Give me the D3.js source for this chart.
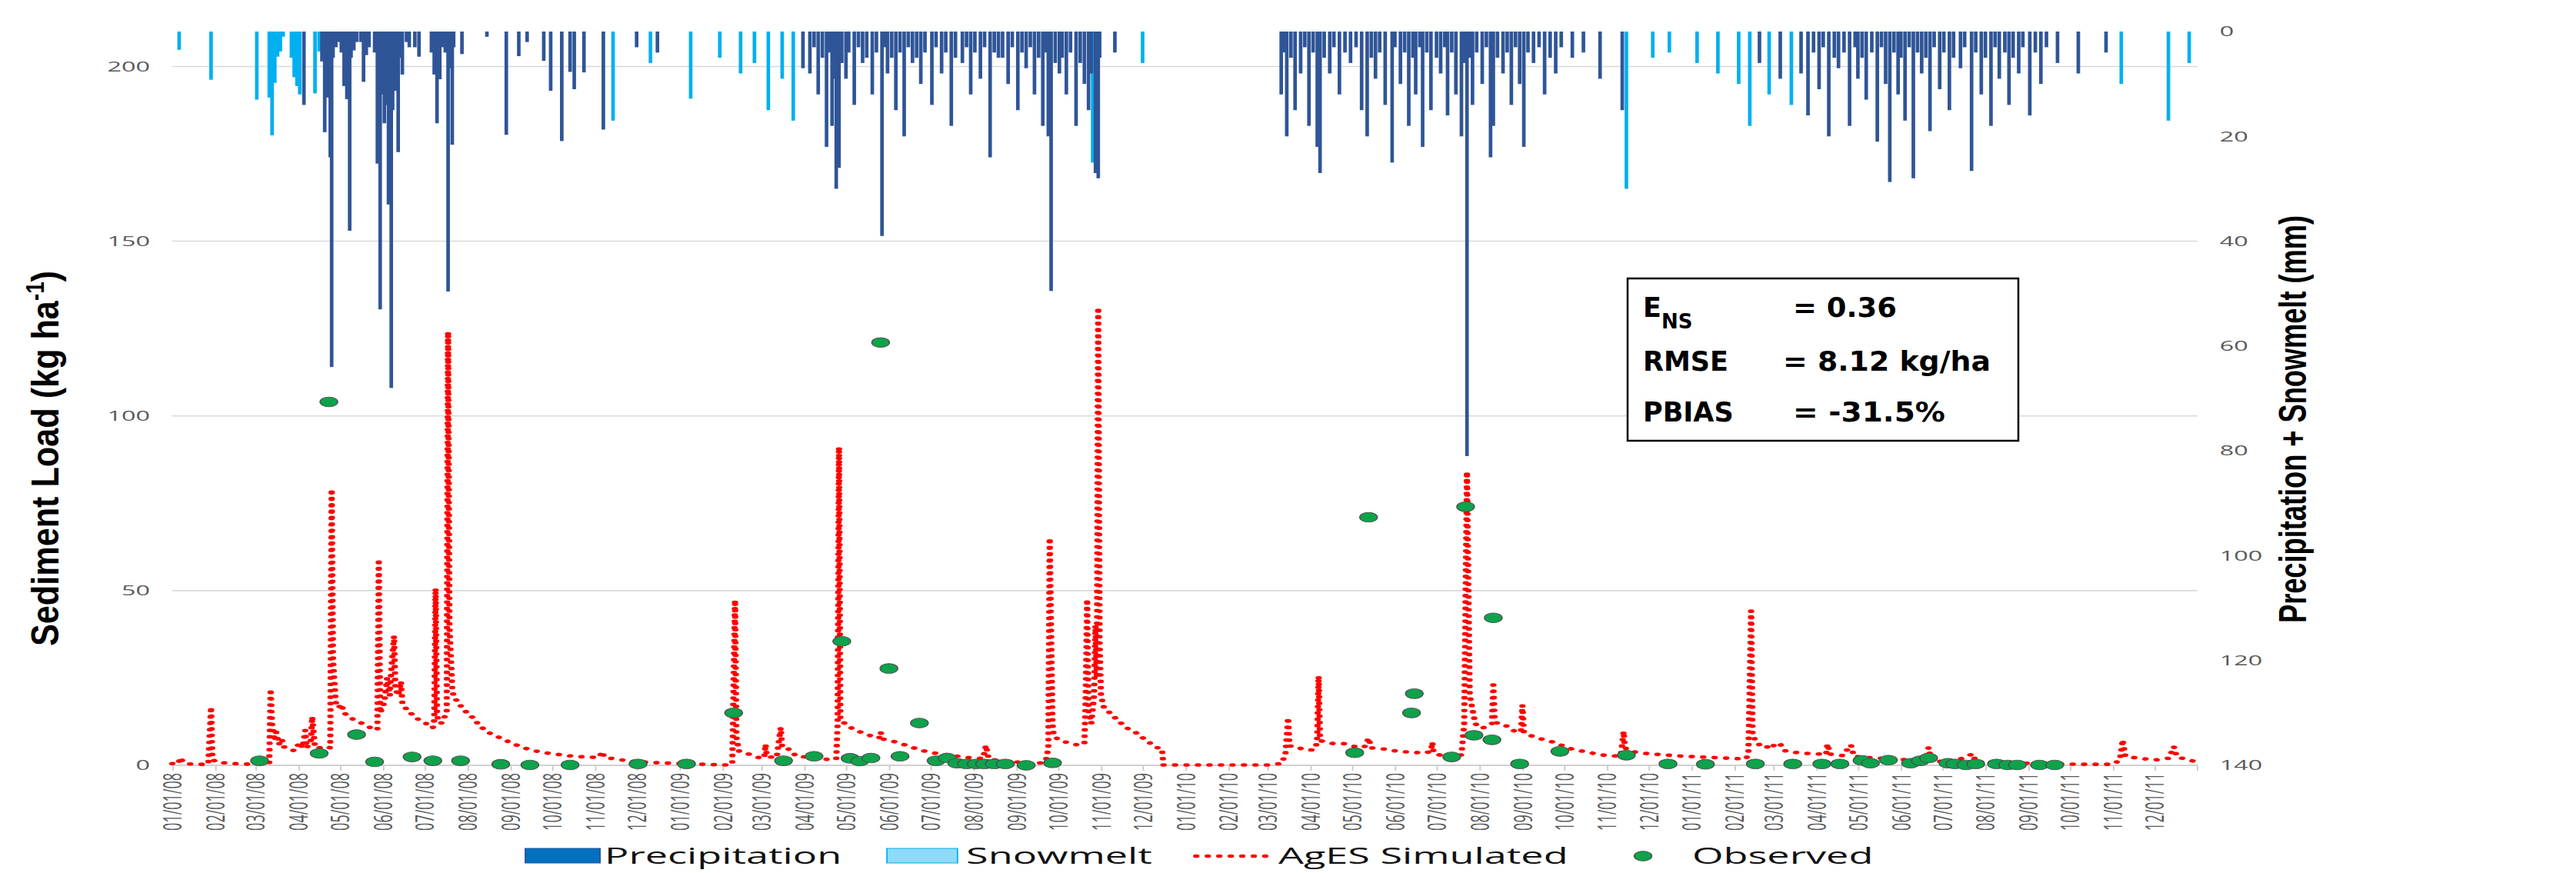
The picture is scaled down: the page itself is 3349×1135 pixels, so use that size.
<!DOCTYPE html>
<html>
<head>
<meta charset="utf-8">
<script src="https://cdn.jsdelivr.net/npm/d3@7"></script>
<style>
  html, body { margin: 0; padding: 0; background: #fff; }
  svg { display: block; }
  .tick-label { font-family: "Open Sans", "Noto Sans", sans-serif; font-size: 18px; fill: #595959; }
  .axis-title { font-family: "Liberation Sans", Arial, sans-serif; font-size: 28px; font-weight: bold; fill: #000; }
  .legend-text { font-family: "Open Sans", "Noto Sans", sans-serif; font-size: 29px; fill: #111; }
  .stats-text { font-family: "DejaVu Sans", sans-serif; font-size: 35px; font-weight: bold; fill: #000; }
</style>
</head>
<body>
<svg width="3349" height="1135"></svg>
<script>
// daily precipitation (mm), hangs from the top on the reversed right axis
const precipitation = [
  ["2008-04-05", 14], ["2008-04-18", 5.7], ["2008-04-19", 4], ["2008-04-20", 19.2], ["2008-04-21", 3],
  ["2008-04-22", 12.6], ["2008-04-23", 6], ["2008-04-24", 24], ["2008-04-25", 64], ["2008-04-26", 5],
  ["2008-04-28", 3], ["2008-04-30", 2], ["2008-05-02", 4], ["2008-05-04", 10.4], ["2008-05-05", 6],
  ["2008-05-06", 12.9], ["2008-05-07", 8], ["2008-05-08", 38], ["2008-05-09", 5], ["2008-05-11", 3.6],
  ["2008-05-13", 2], ["2008-05-16", 2], ["2008-05-18", 9.6], ["2008-05-20", 4.5], ["2008-05-22", 3],
  ["2008-05-26", 4], ["2008-05-28", 25.2], ["2008-05-29", 9], ["2008-05-30", 53], ["2008-05-31", 12],
  ["2008-06-01", 8], ["2008-06-02", 17.5], ["2008-06-03", 10], ["2008-06-04", 14], ["2008-06-05", 33],
  ["2008-06-06", 20], ["2008-06-07", 68], ["2008-06-08", 15], ["2008-06-09", 6], ["2008-06-10", 11.3],
  ["2008-06-11", 9], ["2008-06-12", 23], ["2008-06-13", 5], ["2008-06-15", 8.2], ["2008-06-18", 2],
  ["2008-06-20", 3], ["2008-06-24", 3], ["2008-06-27", 4.8], ["2008-07-06", 4], ["2008-07-08", 8.2],
  ["2008-07-09", 6], ["2008-07-10", 17.5], ["2008-07-12", 9.1], ["2008-07-14", 3], ["2008-07-16", 4],
  ["2008-07-18", 49.6], ["2008-07-19", 7], ["2008-07-20", 5], ["2008-07-21", 21.6], ["2008-07-22", 3],
  ["2008-07-28", 4.3], ["2008-08-15", 1], ["2008-08-29", 19.7], ["2008-09-07", 4.7], ["2008-09-13", 2],
  ["2008-09-25", 5.6], ["2008-09-30", 11.3], ["2008-10-08", 20.9], ["2008-10-14", 7.7], ["2008-10-17", 11],
  ["2008-10-24", 7.8], ["2008-11-07", 18.7], ["2008-12-01", 3], ["2008-12-16", 4],
  ["2009-03-31", 7], ["2009-04-05", 8], ["2009-04-08", 3], ["2009-04-11", 12], ["2009-04-14", 5],
  ["2009-04-17", 22], ["2009-04-19", 4], ["2009-04-21", 18], ["2009-04-23", 9], ["2009-04-24", 30],
  ["2009-04-26", 26], ["2009-04-28", 6], ["2009-05-01", 9], ["2009-05-03", 4], ["2009-05-07", 14],
  ["2009-05-10", 3], ["2009-05-13", 6], ["2009-05-16", 5], ["2009-05-20", 12], ["2009-05-23", 4],
  ["2009-05-27", 39], ["2009-05-29", 3], ["2009-05-31", 8], ["2009-06-03", 5], ["2009-06-06", 15],
  ["2009-06-09", 4], ["2009-06-12", 20], ["2009-06-15", 3], ["2009-06-18", 6], ["2009-06-21", 5],
  ["2009-06-24", 10], ["2009-06-27", 4], ["2009-07-02", 14], ["2009-07-05", 3], ["2009-07-09", 8],
  ["2009-07-12", 4], ["2009-07-16", 18], ["2009-07-19", 5], ["2009-07-24", 6], ["2009-07-27", 3],
  ["2009-07-30", 12], ["2009-08-02", 4], ["2009-08-06", 9], ["2009-08-09", 3], ["2009-08-13", 24],
  ["2009-08-16", 4], ["2009-08-19", 5], ["2009-08-22", 5], ["2009-08-26", 10], ["2009-08-29", 3],
  ["2009-09-02", 15], ["2009-09-05", 4], ["2009-09-08", 7], ["2009-09-11", 3], ["2009-09-14", 12],
  ["2009-09-17", 5], ["2009-09-20", 18], ["2009-09-22", 4], ["2009-09-24", 20], ["2009-09-26", 49.5],
  ["2009-09-29", 6], ["2009-10-02", 8], ["2009-10-04", 5], ["2009-10-07", 12], ["2009-10-10", 4],
  ["2009-10-14", 18], ["2009-10-17", 6], ["2009-10-20", 10], ["2009-10-23", 15], ["2009-10-25", 8],
  ["2009-10-28", 27], ["2009-10-30", 28], ["2009-10-31", 5], ["2009-11-11", 4],
  ["2010-03-11", 12], ["2010-03-13", 4], ["2010-03-15", 20], ["2010-03-18", 5], ["2010-03-21", 15],
  ["2010-03-25", 8], ["2010-03-28", 3], ["2010-03-31", 18], ["2010-04-03", 4], ["2010-04-06", 22],
  ["2010-04-08", 27], ["2010-04-11", 5], ["2010-04-15", 8], ["2010-04-18", 3], ["2010-04-22", 12],
  ["2010-04-26", 4], ["2010-04-30", 6], ["2010-05-04", 3], ["2010-05-08", 15], ["2010-05-12", 20],
  ["2010-05-15", 5], ["2010-05-18", 9], ["2010-05-21", 4], ["2010-05-25", 14], ["2010-05-30", 25],
  ["2010-06-01", 3], ["2010-06-05", 10], ["2010-06-08", 4], ["2010-06-11", 18], ["2010-06-14", 5],
  ["2010-06-16", 12], ["2010-06-19", 3], ["2010-06-21", 22], ["2010-06-24", 4], ["2010-06-27", 15],
  ["2010-07-01", 5], ["2010-07-04", 8], ["2010-07-07", 3], ["2010-07-09", 16], ["2010-07-12", 4],
  ["2010-07-15", 12], ["2010-07-19", 20], ["2010-07-21", 6], ["2010-07-23", 81], ["2010-07-25", 5],
  ["2010-07-27", 14], ["2010-07-30", 4], ["2010-08-03", 10], ["2010-08-06", 3], ["2010-08-09", 24],
  ["2010-08-11", 18], ["2010-08-14", 5], ["2010-08-18", 8], ["2010-08-21", 4], ["2010-08-24", 14],
  ["2010-08-27", 3], ["2010-08-30", 10], ["2010-09-02", 22], ["2010-09-05", 4], ["2010-09-09", 6],
  ["2010-09-13", 3], ["2010-09-17", 12], ["2010-09-21", 5], ["2010-09-25", 8], ["2010-09-29", 3],
  ["2010-10-07", 5], ["2010-10-15", 4], ["2010-10-27", 9], ["2010-11-12", 15],
  ["2011-02-19", 6], ["2011-03-06", 9], ["2011-03-21", 8], ["2011-03-26", 16], ["2011-03-30", 4],
  ["2011-04-03", 11], ["2011-04-06", 3], ["2011-04-10", 20], ["2011-04-14", 5], ["2011-04-17", 7],
  ["2011-04-21", 4], ["2011-04-25", 18], ["2011-04-29", 3], ["2011-05-01", 9], ["2011-05-04", 5],
  ["2011-05-07", 13], ["2011-05-11", 4], ["2011-05-15", 21], ["2011-05-18", 3], ["2011-05-21", 10],
  ["2011-05-24", 28.7], ["2011-05-27", 4], ["2011-05-30", 12], ["2011-06-01", 5], ["2011-06-04", 17],
  ["2011-06-07", 3], ["2011-06-10", 28], ["2011-06-13", 4], ["2011-06-16", 8], ["2011-06-19", 5],
  ["2011-06-22", 19], ["2011-06-25", 3], ["2011-06-29", 11], ["2011-07-02", 4], ["2011-07-06", 15],
  ["2011-07-09", 5], ["2011-07-14", 7], ["2011-07-17", 3], ["2011-07-22", 26.6], ["2011-07-25", 4],
  ["2011-07-29", 12], ["2011-08-01", 5], ["2011-08-05", 18], ["2011-08-08", 3], ["2011-08-11", 9],
  ["2011-08-15", 4], ["2011-08-18", 14], ["2011-08-21", 5], ["2011-08-25", 8], ["2011-08-28", 3],
  ["2011-09-02", 16], ["2011-09-06", 4], ["2011-09-10", 10], ["2011-09-14", 3], ["2011-09-22", 6],
  ["2011-10-07", 8], ["2011-10-27", 4]
]

// daily snowmelt (mm)
const snowmelt = [
  ["2008-01-06", 3.5], ["2008-01-29", 9.2], ["2008-03-02", 13], ["2008-03-11", 12.6], ["2008-03-13", 19.8],
  ["2008-03-15", 9.8], ["2008-03-17", 4.8], ["2008-03-19", 3.8], ["2008-03-21", 1], ["2008-03-27", 5],
  ["2008-03-29", 8.7], ["2008-03-31", 10.4], ["2008-04-02", 12], ["2008-04-13", 11.8], ["2008-04-16", 3.8],
  ["2008-11-14", 17], ["2008-12-11", 6],
  ["2009-01-09", 12.8], ["2009-01-30", 5], ["2009-02-14", 8], ["2009-02-24", 6], ["2009-03-06", 15],
  ["2009-03-16", 9], ["2009-03-24", 17], ["2009-10-26", 25], ["2009-12-01", 6],
  ["2010-11-15", 30], ["2010-12-04", 5], ["2010-12-16", 4],
  ["2011-01-05", 6], ["2011-01-20", 8], ["2011-02-04", 10], ["2011-02-12", 18], ["2011-02-26", 12],
  ["2011-03-14", 14], ["2011-11-07", 10], ["2011-12-11", 17], ["2011-12-26", 6]
]

// AgES simulated sediment load (kg/ha)
const simulated = [
  ["2008-01-01", 0.5], ["2008-01-05", 0.3], ["2008-01-07", 2.2], ["2008-01-09", 0.8], ["2008-01-13", 0.4],
  ["2008-01-21", 0.3], ["2008-01-27", 0.3], ["2008-01-29", 16.7], ["2008-01-30", 2.0], ["2008-02-01", 1.0],
  ["2008-02-10", 0.6], ["2008-02-20", 0.4], ["2008-02-28", 0.3], ["2008-03-03", 0.5], ["2008-03-07", 0.8],
  ["2008-03-11", 0.8], ["2008-03-12", 21.8], ["2008-03-13", 12], ["2008-03-15", 7], ["2008-03-16", 9.5],
  ["2008-03-18", 6], ["2008-03-20", 7.5], ["2008-03-22", 5], ["2008-03-26", 4.5], ["2008-03-29", 4.2],
  ["2008-04-02", 6.5], ["2008-04-04", 5], ["2008-04-06", 10], ["2008-04-07", 5], ["2008-04-10", 7],
  ["2008-04-11", 13.9], ["2008-04-13", 5], ["2008-04-16", 5], ["2008-04-20", 5.5], ["2008-04-24", 5],
  ["2008-04-25", 79], ["2008-04-26", 30], ["2008-04-28", 18], ["2008-04-30", 16.5], ["2008-05-02", 17.5],
  ["2008-05-04", 15], ["2008-05-08", 13.7], ["2008-05-14", 12.5], ["2008-05-20", 11.5], ["2008-05-26", 10],
  ["2008-05-28", 10.5], ["2008-05-29", 59], ["2008-05-30", 15], ["2008-06-02", 18], ["2008-06-04", 25],
  ["2008-06-06", 20], ["2008-06-07", 27], ["2008-06-09", 37], ["2008-06-10", 22], ["2008-06-12", 20],
  ["2008-06-14", 24], ["2008-06-15", 18], ["2008-06-18", 16], ["2008-06-25", 13.5], ["2008-07-02", 12],
  ["2008-07-07", 10.7], ["2008-07-08", 13], ["2008-07-09", 50.6], ["2008-07-10", 14], ["2008-07-13", 12],
  ["2008-07-15", 13.5], ["2008-07-17", 15], ["2008-07-18", 124], ["2008-07-19", 40], ["2008-07-21", 22],
  ["2008-07-22", 19.7], ["2008-07-29", 16], ["2008-08-05", 13.6], ["2008-08-10", 11.2], ["2008-08-16", 9.4],
  ["2008-08-22", 8.3], ["2008-08-28", 7.3], ["2008-09-02", 6.2], ["2008-09-08", 5.5], ["2008-09-15", 4.4],
  ["2008-09-22", 3.9], ["2008-09-29", 3.4], ["2008-10-08", 3.0], ["2008-10-16", 2.6], ["2008-10-29", 2.3],
  ["2008-11-04", 2.3], ["2008-11-06", 3.9], ["2008-11-08", 2.2], ["2008-11-16", 1.8], ["2008-11-26", 1.2],
  ["2008-12-11", 0.8], ["2008-12-26", 0.6],
  ["2009-01-10", 0.4], ["2009-01-25", 0.2], ["2009-02-04", 0.1], ["2009-02-08", 0.3], ["2009-02-10", 47.3],
  ["2009-02-11", 8], ["2009-02-13", 4], ["2009-02-17", 3.5], ["2009-02-22", 3.0], ["2009-02-26", 2.3],
  ["2009-03-03", 2.0], ["2009-03-04", 6], ["2009-03-05", 2.5], ["2009-03-12", 2.2], ["2009-03-15", 10.8],
  ["2009-03-16", 5], ["2009-03-20", 4.8], ["2009-03-23", 4.0], ["2009-03-26", 2.6], ["2009-04-05", 2.3],
  ["2009-04-15", 1.9], ["2009-04-20", 1.5], ["2009-04-24", 1.8], ["2009-04-25", 12], ["2009-04-26", 91],
  ["2009-04-27", 13], ["2009-05-02", 11.4], ["2009-05-07", 10.2], ["2009-05-13", 9.3], ["2009-05-20", 8.3],
  ["2009-05-25", 7.8], ["2009-05-26", 9.5], ["2009-05-28", 7.5], ["2009-06-03", 7], ["2009-06-13", 5.8],
  ["2009-06-24", 4.3], ["2009-07-04", 3.5], ["2009-07-14", 3.0], ["2009-07-24", 2.4], ["2009-08-03", 2.0],
  ["2009-08-08", 2.0], ["2009-08-10", 5.7], ["2009-08-12", 1.8], ["2009-08-23", 1.2], ["2009-09-07", 0.8],
  ["2009-09-17", 0.6], ["2009-09-22", 1.0], ["2009-09-24", 5], ["2009-09-25", 65], ["2009-09-27", 12],
  ["2009-09-28", 8.3], ["2009-10-03", 7], ["2009-10-07", 6.6], ["2009-10-12", 6], ["2009-10-17", 5.8],
  ["2009-10-20", 6], ["2009-10-21", 20], ["2009-10-22", 47.5], ["2009-10-23", 15], ["2009-10-25", 12],
  ["2009-10-27", 20], ["2009-10-28", 40], ["2009-10-29", 25], ["2009-10-30", 131], ["2009-10-31", 35],
  ["2009-11-01", 20], ["2009-11-03", 16.7], ["2009-11-10", 14], ["2009-11-19", 10.8], ["2009-11-26", 9.4],
  ["2009-12-03", 7.3], ["2009-12-11", 5.1], ["2009-12-15", 4.8], ["2009-12-16", 0.1], ["2009-12-31", 0.1],
  ["2010-01-30", 0.1], ["2010-03-01", 0.1], ["2010-03-06", 0.3], ["2010-03-11", 0.5], ["2010-03-14", 3],
  ["2010-03-16", 13.6], ["2010-03-17", 5.5], ["2010-03-21", 5.5], ["2010-03-27", 4.5], ["2010-04-02", 4.4],
  ["2010-04-05", 5], ["2010-04-06", 8], ["2010-04-07", 25.5], ["2010-04-08", 7.1], ["2010-04-13", 6.5],
  ["2010-04-18", 6.2], ["2010-04-25", 6.2], ["2010-05-03", 5.4], ["2010-05-10", 5.2], ["2010-05-13", 7.8],
  ["2010-05-15", 5], ["2010-05-20", 4.8], ["2010-05-27", 4.6], ["2010-06-04", 3.9], ["2010-06-14", 3.8],
  ["2010-06-22", 3.4], ["2010-06-27", 4], ["2010-06-28", 6.6], ["2010-06-29", 3.5], ["2010-07-07", 2.5],
  ["2010-07-15", 2.5], ["2010-07-19", 3], ["2010-07-21", 12], ["2010-07-23", 84], ["2010-07-25", 20],
  ["2010-07-29", 11.9], ["2010-08-02", 10.6], ["2010-08-06", 11], ["2010-08-10", 12], ["2010-08-11", 23],
  ["2010-08-12", 13], ["2010-08-14", 11.9], ["2010-08-21", 11.2], ["2010-08-28", 9.3], ["2010-08-31", 10],
  ["2010-09-01", 17.2], ["2010-09-02", 9.5], ["2010-09-07", 8.5], ["2010-09-14", 7.6], ["2010-09-22", 6.8],
  ["2010-09-26", 6.2], ["2010-10-07", 4.6], ["2010-10-19", 3.7], ["2010-10-27", 3.0], ["2010-11-07", 2.7],
  ["2010-11-11", 2.8], ["2010-11-13", 9.7], ["2010-11-14", 5], ["2010-11-18", 4.0], ["2010-12-01", 3.3],
  ["2010-12-12", 3.0], ["2010-12-26", 2.6],
  ["2011-01-13", 2.3], ["2011-01-30", 2.0], ["2011-02-09", 1.8], ["2011-02-11", 3], ["2011-02-13", 44.2],
  ["2011-02-14", 9.3], ["2011-02-16", 7], ["2011-02-20", 5.5], ["2011-02-24", 5.0], ["2011-02-27", 6.2],
  ["2011-03-03", 5.2], ["2011-03-06", 6.0], ["2011-03-10", 4.0], ["2011-03-21", 3.5], ["2011-04-05", 3.2],
  ["2011-04-08", 3], ["2011-04-09", 6.1], ["2011-04-11", 3.2], ["2011-04-20", 2.8], ["2011-04-26", 5.8],
  ["2011-04-28", 2.6], ["2011-05-10", 2.2], ["2011-05-25", 1.8], ["2011-06-09", 1.5], ["2011-06-19", 1.2],
  ["2011-06-21", 5.1], ["2011-06-23", 1.2], ["2011-07-09", 1.0], ["2011-07-23", 3.3], ["2011-07-25", 1.0],
  ["2011-08-13", 0.7], ["2011-09-02", 0.6], ["2011-09-22", 0.4], ["2011-10-12", 0.3], ["2011-11-01", 0.3],
  ["2011-11-06", 1.5], ["2011-11-08", 7.3], ["2011-11-10", 2.5], ["2011-11-21", 2], ["2011-12-01", 1.5],
  ["2011-12-11", 2], ["2011-12-15", 5.3], ["2011-12-17", 2.5], ["2011-12-21", 2], ["2011-12-31", 1.0]
]

// observed sediment load (kg/ha)
const observed = [
  ["2008-03-04", 1.3], ["2008-04-16", 3.4], ["2008-04-23", 104], ["2008-05-13", 8.8], ["2008-05-26", 1.0],
  ["2008-06-22", 2.4], ["2008-07-07", 1.3], ["2008-07-27", 1.3], ["2008-08-25", 0.3], ["2008-09-15", 0.1],
  ["2008-10-14", 0.1], ["2008-12-02", 0.4],
  ["2009-01-06", 0.4], ["2009-02-09", 15], ["2009-03-17", 1.3], ["2009-04-08", 2.6], ["2009-04-28", 35.5],
  ["2009-05-04", 2.0], ["2009-05-11", 1.2], ["2009-05-19", 2.1], ["2009-05-26", 121], ["2009-06-01", 27.7],
  ["2009-06-09", 2.6], ["2009-06-23", 12.1], ["2009-07-05", 1.3], ["2009-07-13", 2.1], ["2009-07-20", 0.6],
  ["2009-07-27", 0.4], ["2009-08-03", 0.4], ["2009-08-09", 0.4], ["2009-08-16", 0.4], ["2009-08-24", 0.4],
  ["2009-09-08", 0.0], ["2009-09-27", 0.7],
  ["2010-05-03", 3.6], ["2010-05-13", 71], ["2010-06-13", 15], ["2010-06-15", 20.5], ["2010-07-12", 2.4],
  ["2010-07-22", 74], ["2010-07-28", 8.6], ["2010-08-10", 7.3], ["2010-08-11", 42.2], ["2010-08-30", 0.4],
  ["2010-09-28", 4.0], ["2010-11-15", 2.9], ["2010-12-15", 0.4],
  ["2011-01-11", 0.3], ["2011-02-16", 0.4], ["2011-03-15", 0.4], ["2011-04-05", 0.4], ["2011-04-18", 0.4],
  ["2011-05-04", 1.4], ["2011-05-10", 0.6], ["2011-05-23", 1.5], ["2011-06-08", 0.6], ["2011-06-15", 1.3],
  ["2011-06-21", 2.1], ["2011-07-05", 0.6], ["2011-07-10", 0.4], ["2011-07-18", 0.1], ["2011-07-25", 0.4],
  ["2011-08-09", 0.4], ["2011-08-17", 0.1], ["2011-08-24", 0.1], ["2011-09-09", 0.1], ["2011-09-20", 0.1]
]

const leftTicks = [0, 50, 100, 150, 200]
const rightTicks = [0, 20, 40, 60, 80, 100, 120, 140]
const legendLabels = ["Precipitation", "Snowmelt", "AgES Simulated", "Observed"]
const statNames = ["E", "RMSE", "PBIAS"]
const statValues = ["= 0.36", "= 8.12 kg/ha", "= -31.5%"]

;(function(d3){
    const svg = d3.select('svg')

    // the original picture is stretched sideways, so the chart is drawn in a narrower frame and scaled
    const stretch = 1.8
    const plot = {left: 124.4, right: 1587.2, top: 41, bottom: 995}

    const parse = d3.utcParse('%Y-%m-%d')
    const start = parse('2008-01-01')
    const end = parse('2012-01-01')

    const x = d3.scaleUtc().domain([start, end]).range([plot.left, plot.right])
    const yLeft = d3.scaleLinear().domain([0, 210]).range([plot.bottom, plot.top])
    const yRight = d3.scaleLinear().domain([0, 140]).range([plot.top, plot.bottom])

    const chart = svg.append('g')
        .attr('transform', `scale(${stretch},1)`)

    // gridlines
    chart.append('g').selectAll('line')
        .data(leftTicks.filter(v => v > 0))
        .join('line')
        .attr('x1', plot.left)
        .attr('x2', plot.right)
        .attr('y1', d => yLeft(d))
        .attr('y2', d => yLeft(d))
        .attr('stroke', '#d9d9d9')
        .attr('stroke-width', 1.6)

    // bars from the top
    const barW = 2.6
    const drawBars = (data, color) => {
        chart.append('g').selectAll('rect')
            .data(data)
            .join('rect')
            .attr('x', d => x(parse(d[0])) - barW / 2)
            .attr('y', plot.top)
            .attr('width', barW)
            .attr('height', d => yRight(d[1]) - plot.top)
            .attr('fill', color)
    }
    drawBars(snowmelt, '#00b0f0')
    drawBars(precipitation, '#2f5597')

    // bottom axis
    const months = d3.utcMonth.range(start, end)
    const xAxis = d3.axisBottom(x)
        .tickValues(months)
        .tickFormat(d3.utcFormat('%m/%d/%y'))
        .tickSize(7)
        .tickPadding(10)
    const xAxisG = chart.append('g')
        .attr('transform', `translate(0,${plot.bottom})`)
        .call(xAxis)
    xAxisG.select('.domain').remove()
    xAxisG.selectAll('.tick line').attr('stroke', '#c8c8c8').attr('stroke-width', 1)
    xAxisG.selectAll('.tick text')
        .attr('class', 'tick-label')
        .attr('transform', 'rotate(-90)')
        .attr('text-anchor', 'end')
        .attr('x', -10)
        .attr('y', 0)
        .attr('dy', '0.35em')
    xAxisG.append('line')
        .attr('x1', plot.left).attr('x2', plot.right)
        .attr('stroke', '#d0d0d0').attr('stroke-width', 1.8)
    xAxisG.append('line')
        .attr('x1', x(end)).attr('x2', x(end))
        .attr('y1', 0).attr('y2', 7)
        .attr('stroke', '#c8c8c8')

    // left and right tick labels
    chart.append('g').selectAll('text')
        .data(leftTicks)
        .join('text')
        .attr('class', 'tick-label')
        .attr('x', plot.left - 16)
        .attr('y', d => yLeft(d))
        .attr('dy', '0.35em')
        .attr('text-anchor', 'end')
        .text(d => d)

    chart.append('g').selectAll('text')
        .data(rightTicks)
        .join('text')
        .attr('class', 'tick-label')
        .attr('x', plot.right + 16)
        .attr('y', d => yRight(d))
        .attr('dy', '0.35em')
        .attr('text-anchor', 'start')
        .text(d => d)

    // simulated line, round dots
    const line = d3.line()
        .x(d => x(parse(d[0])))
        .y(d => yLeft(d[1]))
    chart.append('path')
        .datum(simulated)
        .attr('d', line)
        .attr('fill', 'none')
        .attr('stroke', '#ff0000')
        .attr('stroke-width', 4.6)
        .attr('stroke-linecap', 'round')
        .attr('stroke-dasharray', '0.1 8.2')

    // observed points
    chart.append('g').selectAll('circle')
        .data(observed)
        .join('circle')
        .attr('cx', d => x(parse(d[0])))
        .attr('cy', d => yLeft(d[1]))
        .attr('r', 6.4)
        .attr('fill', '#0ea24b')
        .attr('stroke', '#4d4d4d')
        .attr('stroke-width', 0.8)

    // axis titles
    const leftTitle = chart.append('text')
        .attr('class', 'axis-title')
        .attr('transform', `translate(42,596) rotate(-90)`)
        .attr('text-anchor', 'middle')
        .attr('textLength', 488)
        .attr('lengthAdjust', 'spacingAndGlyphs')
    leftTitle.append('tspan').text('Sediment Load (kg ha')
    leftTitle.append('tspan').attr('baseline-shift', 'super').attr('font-size', '18px').text('-1')
    leftTitle.append('tspan').attr('baseline-shift', '0').text(')')

    chart.append('text')
        .attr('class', 'axis-title')
        .attr('transform', `translate(1656,545) rotate(-90)`)
        .attr('text-anchor', 'middle')
        .attr('dy', '0.35em')
        .attr('textLength', 530)
        .attr('lengthAdjust', 'spacingAndGlyphs')
        .text('Precipitation + Snowmelt (mm)')

    // legend
    const legendY = 1113
    const legendG = chart.append('g')
    legendG.append('rect')
        .attr('x', 379.4).attr('y', legendY - 10).attr('width', 54).attr('height', 19)
        .attr('fill', '#0070c0').attr('stroke', '#2f5597').attr('stroke-width', 1)
    legendG.append('rect')
        .attr('x', 640.6).attr('y', legendY - 10).attr('width', 51).attr('height', 19)
        .attr('fill', '#8fdaf8').attr('stroke', '#00b0f0').attr('stroke-width', 1)
    legendG.append('line')
        .attr('x1', 864).attr('x2', 914).attr('y1', legendY).attr('y2', legendY)
        .attr('stroke', '#ff0000').attr('stroke-width', 4.6)
        .attr('stroke-linecap', 'round').attr('stroke-dasharray', '0.1 8.2')
    legendG.append('circle')
        .attr('cx', 1186.7).attr('cy', legendY).attr('r', 6.4)
        .attr('fill', '#0ea24b').attr('stroke', '#4d4d4d').attr('stroke-width', 0.8)
    legendG.selectAll('text')
        .data(legendLabels)
        .join('text')
        .attr('class', 'legend-text')
        .attr('x', (d, i) => [436.7, 697.8, 923.3, 1222.2][i])
        .attr('y', legendY)
        .attr('dy', '0.35em')
        .text(d => d)

    // stats box, not stretched
    const box = svg.append('g')
    box.append('rect')
        .attr('x', 2116).attr('y', 362).attr('width', 508).attr('height', 211)
        .attr('fill', '#fff').attr('stroke', '#000').attr('stroke-width', 2.5)
    const rowY = [412, 482, 548]
    const valueX = [2331, 2318, 2331]
    const valueLen = [135, 270, 198]
    const nameText = box.selectAll('text.name')
        .data(statNames)
        .join('text')
        .attr('class', 'stats-text name')
        .attr('x', 2136)
        .attr('y', (d, i) => rowY[i])
        .text(d => d)
    nameText.filter((d, i) => i === 0)
        .append('tspan')
        .attr('baseline-shift', 'sub')
        .attr('font-size', '26px')
        .text('NS')
    box.selectAll('text.value')
        .data(statValues)
        .join('text')
        .attr('class', 'stats-text value')
        .attr('x', (d, i) => valueX[i])
        .attr('y', (d, i) => rowY[i])
        .attr('textLength', (d, i) => valueLen[i])
        .attr('lengthAdjust', 'spacingAndGlyphs')
        .text(d => d)
}(d3))
</script>
</body>
</html>
